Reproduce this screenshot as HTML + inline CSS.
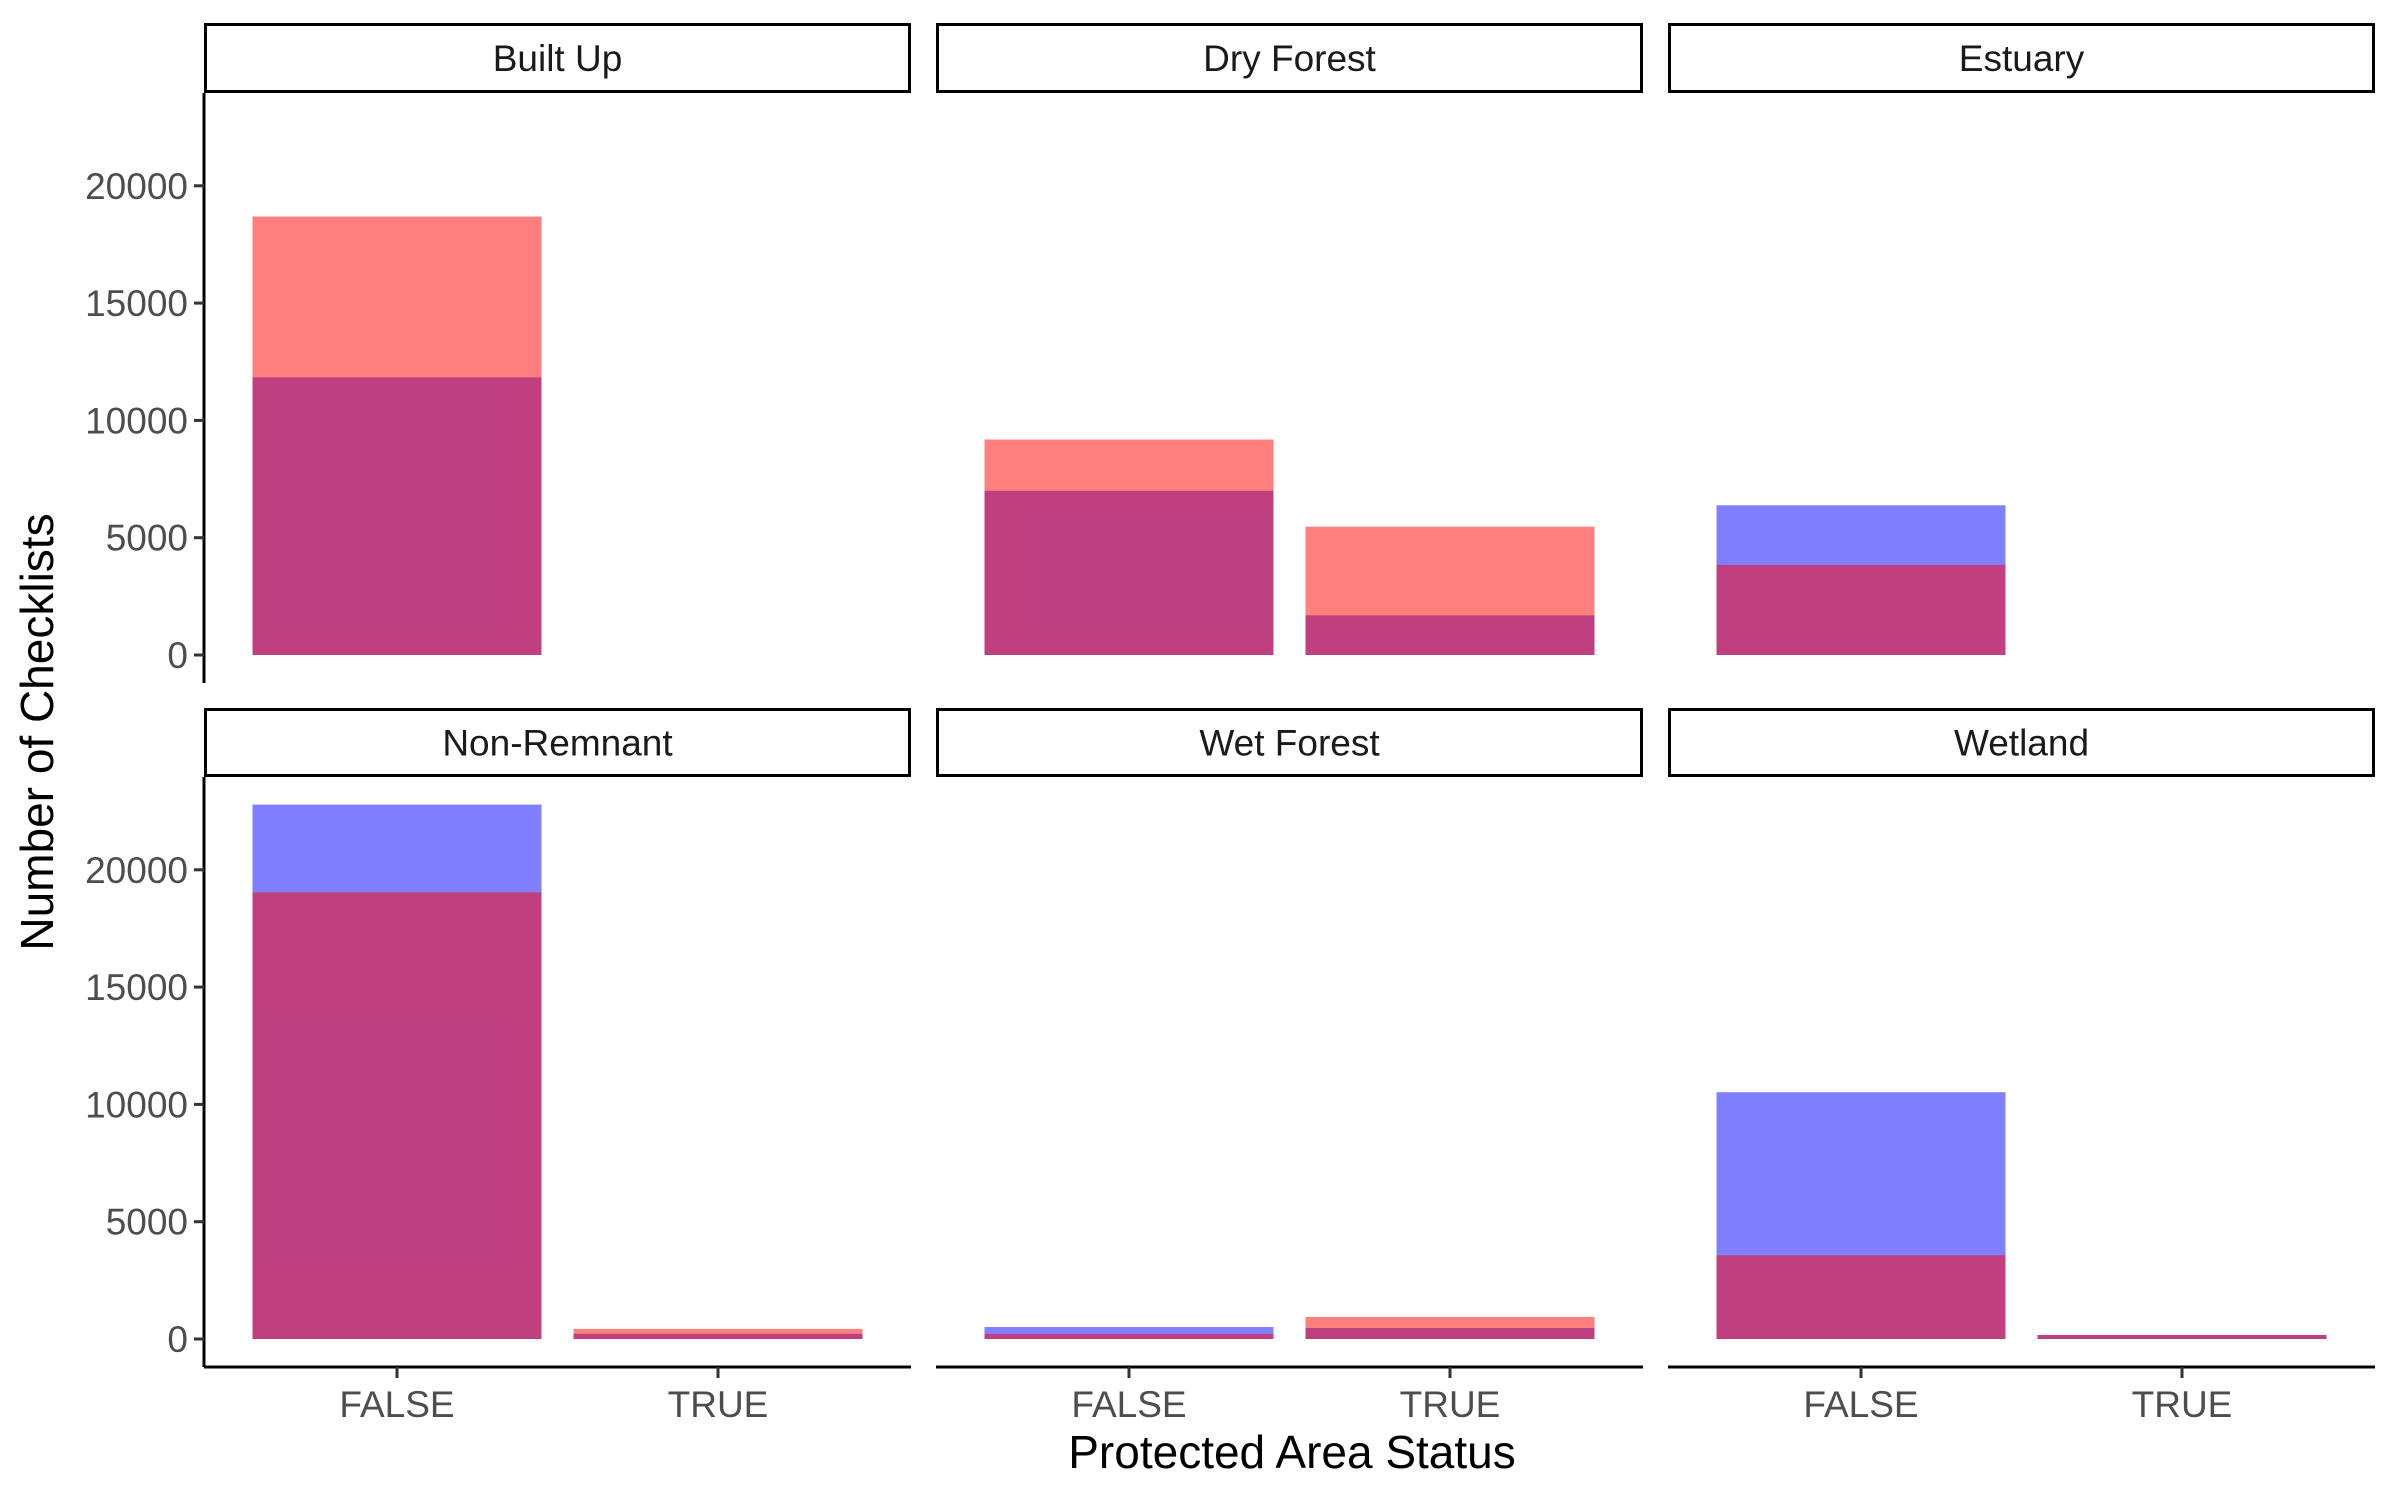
<!DOCTYPE html>
<html><head><meta charset="utf-8"><style>
body{margin:0;background:#fff}
svg{display:block;font-family:"Liberation Sans",Arial,sans-serif}
</style></head><body>
<svg id="chart" width="2400" height="1500" viewBox="0 0 2400 1500">
<g id="g"></g>
<text x="1292" y="1468" text-anchor="middle" font-size="46" fill="#000">Protected Area Status</text>
<text transform="translate(53,732) rotate(-90)" text-anchor="middle" font-size="46" fill="#000">Number of Checklists</text>
</svg>
<script>
const facets = ["Built Up","Dry Forest","Estuary","Non-Remnant","Wet Forest","Wetland"];
const categories = ["FALSE","TRUE"];
const blueValues = [[11835,0],[7000,1690],[6380,0],[22780,220],[510,470],[10520,170]];
const redValues = [[18690,0],[9185,5470],[3840,0],[19040,430],[215,940],[3570,170]];
const yTicks = [0,5000,10000,15000,20000];

const NS="http://www.w3.org/2000/svg";
const g=document.getElementById('g');
function mk(tag,attrs,parent){const e=document.createElementNS(NS,tag);for(const k in attrs)e.setAttribute(k,attrs[k]);(parent||g).appendChild(e);return e;}
const colLeft=[204,936,1668], panelW=707, panelH=590;
const rowTop=[93,777], stripTop=[23,708];
const pxPer=117.3/5000;
function yScale(row,v){return rowTop[row]+panelH-28-v*pxPer;}
function xScale(col,i){return colLeft[col]+193+i*321;}
const barW=289;

facets.forEach((f,fi)=>{
  const row=Math.floor(fi/3), col=fi%3;
  const strip=mk('rect',{x:colLeft[col]+1.5,y:stripTop[row]+1.5,width:panelW-3,height:rowTop[row]-stripTop[row]-3,fill:'#fff',stroke:'#000','stroke-width':3});
  
  
  const st=mk('text',{x:colLeft[col]+panelW/2,y:(stripTop[row]+rowTop[row])/2+13,'text-anchor':'middle','font-size':37,fill:'#1a1a1a'});
  st.textContent=f;
  
  
  categories.forEach((c,ci)=>{
    const y0=yScale(row,0);
    const bv=blueValues[fi][ci], rv=redValues[fi][ci];
    if(bv>0){const b=mk('rect',{x:xScale(col,ci)-barW/2,y:yScale(row,bv),width:barW,height:y0-yScale(row,bv),fill:'#0000FF','fill-opacity':0.5});
      
      }
    if(rv>0){const r=mk('rect',{x:xScale(col,ci)-barW/2,y:yScale(row,rv),width:barW,height:y0-yScale(row,rv),fill:'#FF0000','fill-opacity':0.5});
      
      }
  });
  if(col===0){
    const ax=mk('line',{x1:colLeft[0],x2:colLeft[0],y1:rowTop[row],y2:rowTop[row]+panelH,stroke:'#000','stroke-width':3});
    
    
    yTicks.forEach(t=>{
      const y=yScale(row,t);
      mk('line',{x1:colLeft[0]-10,x2:colLeft[0],y1:y,y2:y,stroke:'#333','stroke-width':3});
      const tl=mk('text',{x:colLeft[0]-16,y:y+13,'text-anchor':'end','font-size':37,fill:'#4D4D4D'});
      tl.textContent=t;
      
      
    });
  }
  if(row===1){
    const xa=mk('line',{x1:colLeft[col],x2:colLeft[col]+panelW,y1:rowTop[1]+panelH,y2:rowTop[1]+panelH,stroke:'#000','stroke-width':3});
    
    
    categories.forEach((c,ci)=>{
      const x=xScale(col,ci);
      mk('line',{x1:x,x2:x,y1:rowTop[1]+panelH,y2:rowTop[1]+panelH+11,stroke:'#333','stroke-width':3});
      const xl=mk('text',{x:x,y:1417,'text-anchor':'middle','font-size':37,fill:'#4D4D4D'});
      xl.textContent=c;
      
      
    });
  }
});
</script>
</body></html>
